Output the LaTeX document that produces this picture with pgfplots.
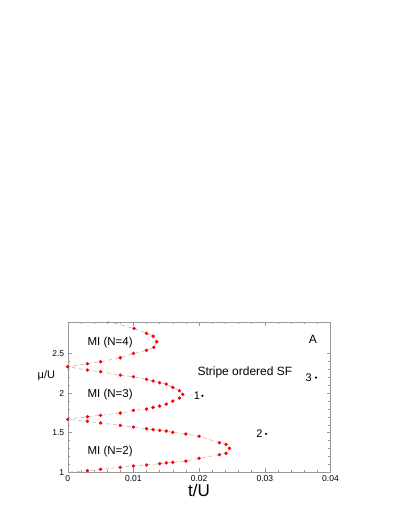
\documentclass[border=0pt]{standalone}
\usepackage{pgfplots}
\pgfplotsset{compat=1.18}
\usepackage{fontspec}
\setmainfont{Liberation Sans}
\begin{document}
\begin{tikzpicture}[x=1pt,y=1pt]
\path[use as bounding box] (-67.7,-43.7) rectangle (331.3,472.3);
\begin{axis}[
  scale only axis, width=262.8pt, height=150.6pt,
  xmin=0, xmax=0.04, ymin=1, ymax=2.9,
  xtick={0,0.01,0.02,0.03,0.04}, xticklabels={0,0.01,0.02,0.03,0.04},
  scaled x ticks=false,
  ytick={1,1.5,2,2.5}, yticklabels={1,1.5,2,2.5},
  minor x tick num=4, minor y tick num=4,
  tick align=inside, major tick length=4pt, minor tick length=2.5pt,
  axis line style={gray!80}, every tick/.style={gray!80, line width=0.4pt},
  ticklabel style={font=\fontsize{8.5}{8.5}\selectfont},
  /pgf/number format/assume math mode=true,
  xlabel={t/U}, xlabel style={font=\fontsize{17}{17}\selectfont, at={(axis description cs:0.5,-0.1175)}, anchor=center},
  ylabel={μ/U}, ylabel style={font=\fontsize{11}{11}\selectfont, at={(axis description cs:-0.081,0.64)}, rotate=-90, anchor=center},
  clip=true,
]
\addplot[gray!65, line width=0.5pt, dash pattern=on 4pt off 3pt] coordinates {
(0.0040,2.95) (0.0101,2.815) (0.0120,2.752) (0.0130,2.718) (0.01355,2.647) (0.0131,2.576) (0.0120,2.538) (0.0100,2.500) (0.0080,2.445) (0.0050,2.395) (0.0030,2.370) (0,2.332)
(0.0030,2.290) (0.0050,2.269) (0.0080,2.227) (0.0100,2.206) (0.0120,2.172) (0.0130,2.151) (0.0140,2.130) (0.0150,2.113) (0.0160,2.071) (0.0170,2.029) (0.0175,1.983) (0.0170,1.937) (0.0160,1.899) (0.0150,1.861) (0.0140,1.836) (0.0130,1.819) (0.0120,1.798) (0.0100,1.781) (0.0080,1.748) (0.0050,1.718) (0.0030,1.702) (0,1.668)
(0.0030,1.643) (0.0050,1.622) (0.0080,1.592) (0.0100,1.571) (0.0120,1.550) (0.0130,1.538) (0.0140,1.529) (0.0150,1.521) (0.0160,1.504) (0.0180,1.483) (0.0200,1.454) (0.0231,1.373) (0.0241,1.353) (0.0246,1.303) (0.0241,1.240) (0.0231,1.222) (0.0200,1.177) (0.0180,1.142) (0.0160,1.126) (0.0150,1.118) (0.0140,1.109) (0.0120,1.092) (0.0100,1.080) (0.0080,1.063) (0.0050,1.038) (0.0030,1.021) (0,1.0)
};
\addplot[only marks, mark=*, mark size=1.5pt, red, mark options={fill=red, draw=red}] coordinates {
(0.0101,2.815) (0.0120,2.752) (0.0130,2.718) (0.01355,2.647) (0.0131,2.576) (0.0120,2.538) (0.0100,2.500) (0.0080,2.445) (0.0050,2.395) (0.0030,2.370) (0,2.332)
(0.0030,2.290) (0.0050,2.269) (0.0080,2.227) (0.0100,2.206) (0.0120,2.172) (0.0130,2.151) (0.0140,2.130) (0.0150,2.113) (0.0160,2.071) (0.0170,2.029) (0.0175,1.983) (0.0170,1.937) (0.0160,1.899) (0.0150,1.861) (0.0140,1.836) (0.0130,1.819) (0.0120,1.798) (0.0100,1.781) (0.0080,1.748) (0.0050,1.718) (0.0030,1.702) (0,1.668)
(0.0030,1.643) (0.0050,1.622) (0.0080,1.592) (0.0100,1.571) (0.0120,1.550) (0.0130,1.538) (0.0140,1.529) (0.0150,1.521) (0.0160,1.504) (0.0180,1.483) (0.0200,1.454) (0.0231,1.373) (0.0241,1.353) (0.0246,1.303) (0.0241,1.240) (0.0231,1.222) (0.0200,1.177) (0.0180,1.142) (0.0160,1.126) (0.0150,1.118) (0.0140,1.109) (0.0120,1.092) (0.0100,1.080) (0.0080,1.063) (0.0050,1.038) (0.0030,1.021)
};
\addplot[only marks, mark=*, mark size=0.9pt, black] coordinates {(0.0205,1.965) (0.0302,1.485) (0.0378,2.195)};
\node[font=\fontsize{11.5}{11.5}\selectfont] at (axis cs:0.00645,2.643) {MI (N=4)};
\node[font=\fontsize{11.5}{11.5}\selectfont] at (axis cs:0.00645,1.987) {MI (N=3)};
\node[font=\fontsize{11.5}{11.5}\selectfont] at (axis cs:0.00645,1.26) {MI (N=2)};
\node[font=\fontsize{12}{12}\selectfont] at (axis cs:0.02697,2.26) {Stripe ordered SF};
\node[font=\fontsize{11}{11}\selectfont, anchor=east, inner sep=1.5pt] at (axis cs:0.0204,1.965) {1};
\node[font=\fontsize{11}{11}\selectfont, anchor=east, inner sep=1.5pt] at (axis cs:0.0299,1.485) {2};
\node[font=\fontsize{11}{11}\selectfont, anchor=east, inner sep=1.5pt] at (axis cs:0.0374,2.19) {3};
\node[font=\fontsize{12}{12}\selectfont] at (axis cs:0.0373,2.68) {A};
\end{axis}
\end{tikzpicture}
\end{document}
